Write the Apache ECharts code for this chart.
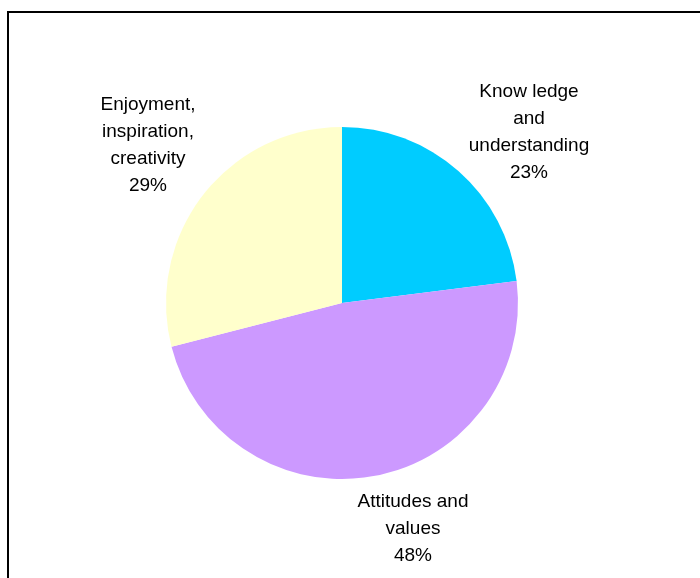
<!DOCTYPE html>
<html>
<head>
<meta charset="utf-8">
<script src="https://cdn.jsdelivr.net/npm/echarts@6/dist/echarts.min.js"></script>
<style>
  html, body { margin: 0; padding: 0; background: #fff; }
  #chart { width: 700px; height: 578px; }
</style>
</head>
<body>
<div id="chart"></div>
<script>
// Share of outcomes by category
const categories = ['Know ledge\nand\nunderstanding', 'Attitudes and\nvalues', 'Enjoyment,\ninspiration,\ncreativity'];
const shares = [23, 48, 29];
const colors = ['#00CCFF', '#CC99FF', '#FFFFCC'];

// Label anchor points (pixel centres of each label block)
const labelAnchors = [[529, 132], [413, 529], [148, 145]];

const chart = echarts.init(document.getElementById('chart'), null, { renderer: 'canvas' });

chart.setOption({
  backgroundColor: '#ffffff',
  animation: false,
  graphic: [{
    type: 'rect',
    shape: { x: 8, y: 12, width: 720, height: 600 },
    style: { fill: 'none', stroke: '#000', lineWidth: 2 },
    silent: true
  }],
  series: [{
    type: 'pie',
    center: [342, 303],
    radius: 176,
    startAngle: 90,
    clockwise: true,
    data: categories.map((name, i) => ({
      name: name,
      value: shares[i],
      itemStyle: { color: colors[i] }
    })),
    itemStyle: { borderWidth: 0 },
    label: {
      show: true,
      position: 'outside',
      formatter: p => p.name + '\n' + p.value + '%',
      color: '#000',
      fontFamily: 'Liberation Sans, Arial, sans-serif',
      fontSize: 19,
      lineHeight: 27,
      align: 'center'
    },
    labelLine: { show: false },
    labelLayout: params => ({
      x: labelAnchors[params.dataIndex][0],
      y: labelAnchors[params.dataIndex][1],
      align: 'center',
      verticalAlign: 'middle'
    }),
    emphasis: { disabled: true }
  }]
});
</script>
</body>
</html>
